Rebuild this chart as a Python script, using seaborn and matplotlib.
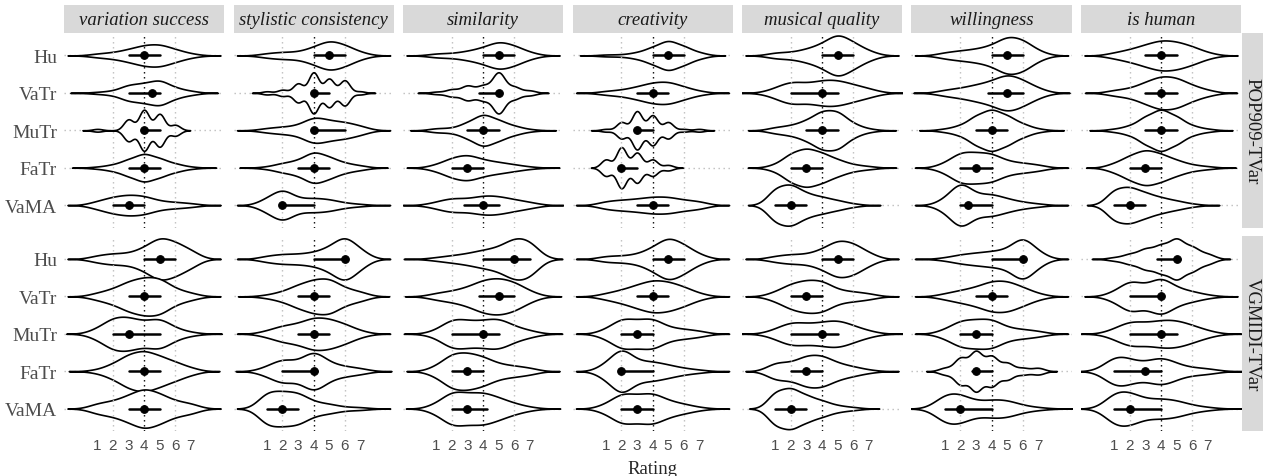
import numpy as np
import pandas as pd
import matplotlib
matplotlib.use("Agg")
import matplotlib.pyplot as plt
from matplotlib.patches import Rectangle
import seaborn as sns

models = ["Hu", "VaTr", "MuTr", "FaTr", "VaMA"]
metrics = ["variation success", "stylistic consistency", "similarity",
           "creativity", "musical quality", "willingness", "is human"]
datasets = ["POP909-TVar", "VGMIDI-TVar"]
ratings = [1, 2, 3, 4, 5, 6, 7]

# answers per rating 1..7 (one row per model), estimated from the violins
pop_variation_success = [[2, 3, 6, 10, 11, 6, 2], [1, 2, 8, 9, 13, 5, 2], [1, 0, 8, 15, 12, 4, 0],
                         [1, 3, 8, 14, 9, 4, 1], [4, 8, 10, 9, 4, 3, 2]]
pop_stylistic = [[2, 3, 3, 7, 13, 9, 3], [1, 2, 6, 13, 9, 8, 1], [2, 3, 4, 12, 8, 7, 4],
                 [1, 4, 6, 14, 9, 4, 2], [6, 15, 5, 6, 5, 2, 1]]
pop_similarity = [[2, 2, 4, 7, 13, 9, 3], [1, 3, 6, 6, 17, 5, 2], [2, 2, 7, 15, 9, 4, 1],
                  [3, 9, 12, 7, 5, 3, 1], [3, 7, 5, 9, 8, 5, 3]]
pop_creativity = [[1, 1, 3, 8, 15, 9, 3], [2, 3, 6, 10, 11, 6, 2], [1, 6, 14, 11, 6, 1, 1],
                  [6, 15, 11, 6, 2, 0, 0], [4, 5, 6, 8, 8, 5, 4]]
pop_musical_quality = [[2, 2, 4, 7, 14, 8, 3], [3, 8, 5, 8, 8, 5, 3], [2, 3, 6, 12, 12, 4, 1],
                       [2, 9, 12, 9, 5, 2, 1], [11, 13, 7, 5, 3, 1, 0]]
pop_willingness = [[2, 3, 4, 6, 12, 10, 3], [2, 3, 5, 7, 12, 8, 3], [1, 3, 9, 13, 9, 4, 1],
                   [3, 10, 9, 9, 4, 3, 2], [4, 16, 6, 7, 4, 2, 1]]
pop_is_human = [[2, 4, 7, 10, 9, 6, 2], [2, 3, 7, 11, 10, 5, 2], [1, 3, 9, 14, 9, 3, 1],
                [3, 8, 12, 9, 5, 2, 1], [11, 12, 8, 5, 3, 1, 0]]

vgm_variation_success = [[2, 3, 3, 6, 12, 9, 5], [2, 4, 8, 10, 10, 4, 2], [3, 9, 9, 6, 9, 3, 1],
                         [1, 4, 9, 11, 8, 5, 2], [3, 4, 7, 11, 8, 4, 3]]
vgm_stylistic = [[2, 3, 3, 4, 7, 15, 6], [1, 3, 7, 10, 11, 5, 3], [2, 5, 6, 10, 9, 6, 2],
                 [3, 8, 5, 14, 5, 3, 2], [11, 10, 10, 4, 3, 1, 1]]
vgm_similarity = [[1, 2, 3, 5, 6, 12, 11], [2, 3, 5, 9, 10, 8, 3], [2, 9, 7, 7, 9, 4, 2],
                  [3, 10, 10, 8, 4, 3, 2], [3, 10, 8, 9, 6, 3, 1]]
vgm_creativity = [[2, 2, 3, 7, 14, 9, 3], [2, 4, 7, 10, 9, 6, 2], [3, 10, 8, 10, 4, 3, 2],
                  [5, 16, 6, 6, 4, 2, 1], [3, 10, 8, 10, 5, 3, 1]]
vgm_musical_quality = [[2, 3, 3, 6, 12, 10, 4], [3, 8, 10, 10, 4, 3, 2], [3, 8, 6, 7, 9, 5, 2],
                       [6, 5, 10, 10, 5, 3, 1], [11, 13, 8, 5, 2, 1, 0]]
vgm_willingness = [[1, 3, 4, 5, 6, 16, 5], [2, 4, 6, 10, 10, 6, 2], [3, 9, 9, 10, 4, 3, 2],
                   [2, 8, 12, 9, 5, 2, 2], [11, 10, 4, 6, 6, 2, 1]]
vgm_is_human = [[1, 3, 6, 8, 12, 7, 3], [3, 10, 6, 12, 5, 3, 1], [3, 8, 6, 8, 8, 5, 2],
                [11, 7, 4, 10, 4, 2, 2], [11, 10, 5, 6, 5, 2, 1]]

counts = {
    "POP909-TVar": [pop_variation_success, pop_stylistic, pop_similarity, pop_creativity,
                    pop_musical_quality, pop_willingness, pop_is_human],
    "VGMIDI-TVar": [vgm_variation_success, vgm_stylistic, vgm_similarity, vgm_creativity,
                    vgm_musical_quality, vgm_willingness, vgm_is_human],
}

# expand the counts into one row per answer
records = []
for ds in datasets:
    for metric, table in zip(metrics, counts[ds]):
        for model, row in zip(models, table):
            for r, c in zip(ratings, row):
                records += [(ds, metric, model, r)] * c
df = pd.DataFrame(records, columns=["dataset", "metric", "model", "rating"])


def nrd0(kde):
    # R's default bandwidth (bw.nrd0), as a factor of the sample sd
    x = kde.dataset[0]
    sd = np.std(x, ddof=1)
    q25, q75 = np.percentile(x, [25, 75])
    lo = min(sd, (q75 - q25) / 1.34)
    if lo <= 0:
        lo = sd
    return 0.9 * lo * len(x) ** -0.2 / sd


sns.set_theme(style="white")
plt.rcParams["font.family"] = ["Liberation Serif", "DejaVu Serif"]

grid_kw = dict(linestyle=(0, (1, 2.6)), linewidth=1.0)

fig, axes = plt.subplots(2, 7, figsize=(12.63, 4.77), dpi=100)
fig.subplots_adjust(left=0.0507, right=0.9826, top=0.9287, bottom=0.0943,
                    wspace=0.059, hspace=0.046)

for i, ds in enumerate(datasets):
    for j, metric in enumerate(metrics):
        ax = axes[i, j]
        sub = df[(df["dataset"] == ds) & (df["metric"] == metric)]

        sns.violinplot(data=sub, x="rating", y="model", order=models, orient="h",
                       color="white", saturation=1, linecolor="black", linewidth=1.2,
                       inner=None, density_norm="area", bw_method=nrd0, cut=3,
                       gridsize=300, width=1.1, ax=ax)
        for v, col in [(2, "#bdbdbd"), (4, "black"), (6, "#bdbdbd")]:
            ax.axvline(v, color=col, zorder=1.5, **grid_kw)
        sns.pointplot(data=sub, x="rating", y="model", order=models, orient="h",
                      estimator="median", errorbar=("pi", 50), color="black",
                      marker="o", markersize=5.5, markeredgewidth=0.8, linestyle="none",
                      err_kws={"linewidth": 1.8}, ax=ax)

        ax.set_xlim(-1.15, 9.15)
        ax.set_ylim(4.6, -0.6)
        ax.set_xlabel("")
        ax.set_ylabel("")
        for s in ax.spines.values():
            s.set_visible(False)
        ax.xaxis.grid(False)
        ax.yaxis.grid(True, color="#bdbdbd", **grid_kw)
        ax.set_axisbelow(True)

        ax.set_xticks(ratings, [str(r) for r in ratings], fontfamily="Liberation Sans",
                      fontsize=11, color="#4d4d4d")
        ax.set_yticks(range(len(models)), models, fontsize=14, color="#4d4d4d")
        ax.tick_params(axis="both", length=3, width=1.0, color="#333333", pad=2)
        if i == 0:
            ax.tick_params(axis="x", bottom=False, labelbottom=False)
        if j > 0:
            ax.tick_params(axis="y", left=False, labelleft=False)

        if i == 0:
            ax.add_patch(Rectangle((0, 1.0), 1, 0.144, transform=ax.transAxes,
                                   clip_on=False, facecolor="#d9d9d9", edgecolor="none"))
            ax.text(0.5, 1.072, metric, transform=ax.transAxes, ha="center", va="center",
                    fontsize=13.5, style="italic", color="#1a1a1a")
        if j == len(metrics) - 1:
            ax.add_patch(Rectangle((1.004, 0), 0.16, 1, transform=ax.transAxes,
                                   clip_on=False, facecolor="#d9d9d9", edgecolor="none"))
            ax.text(1.069, 0.5, ds, transform=ax.transAxes, ha="center", va="center",
                    rotation=270, fontsize=13.5, color="#1a1a1a")

fig.text(0.5167, 0.007, "Rating", ha="center", va="baseline", fontsize=13.5)

fig.savefig("out.png", dpi=100)
